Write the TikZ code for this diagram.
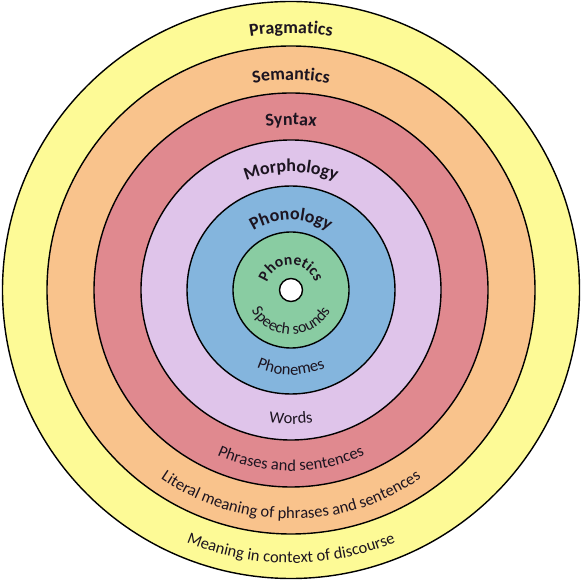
\documentclass[tikz,border=0pt]{standalone}
\usepackage{fontspec}
\setmainfont{Carlito}
\usetikzlibrary{decorations.text}
\definecolor{cYellow}{HTML}{FDFA96}
\definecolor{cOrange}{HTML}{F9C38C}
\definecolor{cRed}{HTML}{E0898F}
\definecolor{cLav}{HTML}{DFC4EA}
\definecolor{cBlue}{HTML}{84B5DD}
\definecolor{cGreen}{HTML}{89CCA2}
\definecolor{txt}{HTML}{1C1420}
\begin{document}
\begin{tikzpicture}[x=1pt,y=1pt,
  ring/.style={draw=black, line width=1.4pt},
  toplabel/.style={decorate, decoration={text along path, text align=center,
     text={|\bfseries\fontsize{18}{20}\selectfont\color{txt}|#1}}},
  botlabel/.style={decorate, decoration={text along path, text align=center,
     text={|\fontsize{16.5}{18}\selectfont\color{txt}|#1}}}]
\useasboundingbox (0,0) rectangle (583,583);
\fill[white] (0,0) rectangle (583,583);
\coordinate (c) at (291,293);
\filldraw[ring, fill=cYellow] (c) circle[radius=288.5];
\filldraw[ring, fill=cOrange] (c) circle[radius=244];
\filldraw[ring, fill=cRed] (c) circle[radius=197];
\filldraw[ring, fill=cLav] (c) circle[radius=150];
\filldraw[ring, fill=cBlue] (c) circle[radius=104];
\filldraw[ring, fill=cGreen] (c) circle[radius=58];
\filldraw[ring, fill=white] (c) circle[radius=11.5];
% top labels
\path[toplabel=Pragmatics] (c) ++(180:257) arc[start angle=180, end angle=0, radius=257];
\path[toplabel=Semantics] (c) ++(180:210) arc[start angle=180, end angle=0, radius=210];
\path[toplabel=Syntax] (c) ++(180:165) arc[start angle=180, end angle=0, radius=165];
\path[toplabel=Morphology] (c) ++(180:118) arc[start angle=180, end angle=0, radius=118];
\path[toplabel=Phonology] (c) ++(180:70) arc[start angle=180, end angle=0, radius=70];
\path[decorate, decoration={text along path, text align=center,
     text={|\bfseries\fontsize{15.5}{17}\selectfont\color{txt}|Phonetics}}]
  (c) ++(180:25) arc[start angle=180, end angle=0, radius=25];
% bottom labels
\path[decorate, decoration={text along path, text align=center,
     text={|\fontsize{16}{18}\selectfont\color{txt}|Speech sounds}}]
  (c) ++(180:44.5) arc[start angle=180, end angle=360, radius=44.5];
\path[botlabel=Phonemes] (c) ++(180:85) arc[start angle=180, end angle=360, radius=85];
\path[botlabel=Words] (c) ++(180:134) arc[start angle=180, end angle=360, radius=134];
\path[botlabel={Phrases and sentences}] (c) ++(180:181) arc[start angle=180, end angle=360, radius=181];
\path[botlabel={Literal meaning of phrases and sentences}] (c) ++(180:229) arc[start angle=180, end angle=360, radius=229];
\path[botlabel={Meaning in context of discourse}] (c) ++(180:273) arc[start angle=180, end angle=360, radius=273];
\end{tikzpicture}
\end{document}
